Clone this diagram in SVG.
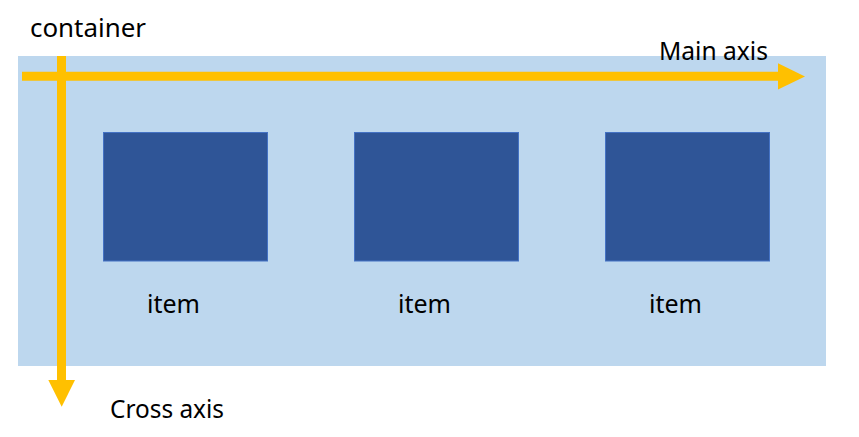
<svg xmlns="http://www.w3.org/2000/svg" width="859" height="437" viewBox="0 0 859 437">
<style>
.lbl{font-family:"Noto Sans","Liberation Sans",sans-serif;font-size:25px;fill:#000}
.item{fill:#2F5597;stroke:#4472C4;stroke-width:1}
.axis{stroke:#FFC000;stroke-width:9;fill:none}
.head{fill:#FFC000}
</style>
<rect width="859" height="437" fill="#fff"/>
<g id="container">
<rect x="18" y="56" width="808" height="310" fill="#BDD7EE"/>
<text class="lbl" x="30" y="37" textLength="116" lengthAdjust="spacingAndGlyphs">container</text>
</g>
<g id="item1">
<rect class="item" x="103.5" y="132.5" width="164" height="128.5"/>
<text class="lbl" x="147" y="312.5" textLength="53" lengthAdjust="spacingAndGlyphs">item</text>
</g>
<g id="item2">
<rect class="item" x="354.5" y="132.5" width="164" height="128.5"/>
<text class="lbl" x="398" y="312.5" textLength="53" lengthAdjust="spacingAndGlyphs">item</text>
</g>
<g id="item3">
<rect class="item" x="605.5" y="132.5" width="164" height="128.5"/>
<text class="lbl" x="649" y="312.5" textLength="53" lengthAdjust="spacingAndGlyphs">item</text>
</g>
<g id="connectors">
<line class="axis" x1="22" y1="76.3" x2="780" y2="76.3"/>
<polygon class="head" points="778,63.3 805,76.5 778,89.5"/>
<line class="axis" x1="61.5" y1="56" x2="61.5" y2="382"/>
<polygon class="head" points="48.3,380 75,380 61.7,406.7"/>
</g>
<text class="lbl" x="659" y="60" textLength="109" lengthAdjust="spacingAndGlyphs">Main axis</text>
<text class="lbl" x="110" y="418" textLength="114" lengthAdjust="spacingAndGlyphs">Cross axis</text>
</svg>
